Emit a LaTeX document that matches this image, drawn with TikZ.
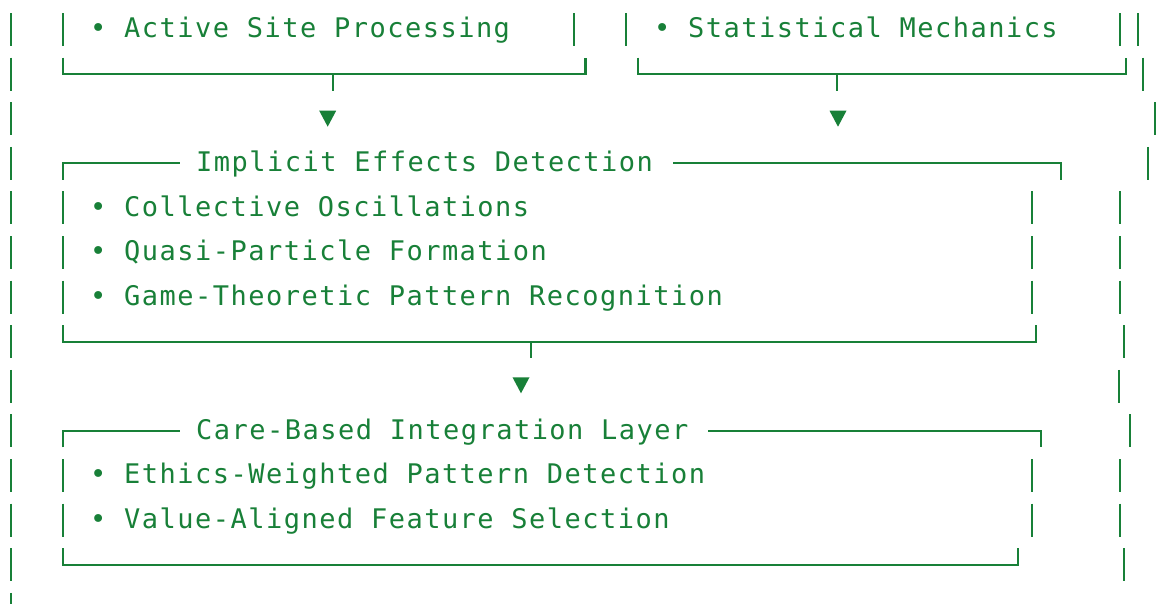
\documentclass[tikz,border=0pt]{standalone}
\usepackage{fontspec}
\newfontfamily\asciimono[LetterSpace=5.5]{DejaVu Sans Mono}
\definecolor{termgreen}{HTML}{188038}
\tikzset{
  bar/.style     = {draw=termgreen, line width=2.2pt},
  boxrule/.style = {draw=termgreen, line width=2.2pt},
  itemtxt/.style = {anchor=base west, inner sep=0pt, text=termgreen,
                    font=\asciimono\fontsize{27}{30}\selectfont},
  ttltxt/.style  = {itemtxt},
  headtip/.style = {fill=termgreen},
}

\begin{document}
\begin{tikzpicture}[x=1pt, y=-1pt]
  \useasboundingbox (0,0) rectangle (1171,603);
  % outer left frame
  \foreach \k in {0,...,13}{\draw[bar] (11,{13+44.6*\k}) -- ++(0,33);}
  % single bars: row/x
  \foreach \k/\x in {0/63, 0/574, 0/626, 0/1120, 0/1137.7, 1/1142.7, 2/1155, 3/1148.3,
                     4/63, 5/63, 6/63, 4/1031.7, 5/1031.7, 6/1031.7,
                     4/1120, 5/1120, 6/1120, 7/1124.3, 8/1119.3, 9/1129.7,
                     10/63, 11/63, 10/1031.7, 11/1031.7, 10/1120, 11/1120, 12/1123.7}
    {\draw[bar] (\x,{13+44.6*\k}) -- ++(0,33);}

  % top row boxes
  \node[itemtxt] (act) at (90,37.7) {• Active Site Processing};
  \node[itemtxt] (stm) at (654,37.7) {• Statistical Mechanics};
  \draw[boxrule] (63,57.6) |- (585.5,74.1) -- (585.5,57.6);
  \draw[boxrule] (638,57.6) |- (1125.7,74.1) -- (1125.7,57.6);
  \coordinate (actout) at (333.3,74.1);
  \coordinate (stmout) at (837,74.1);
  \draw[boxrule] (actout) -- ++(0,16.5);
  \draw[boxrule] (stmout) -- ++(0,16.5);

  % implicit effects box
  \node[ttltxt] (ied) at (196,171.5) {Implicit Effects Detection};
  \draw[boxrule] (63,179.8) |- (180,163.3);
  \draw[boxrule] (673,163.3) -| (1060.7,179.8);
  \node[itemtxt] (col) at (90,216.1) {• Collective Oscillations};
  \node[itemtxt] (qpf) at (90,260.7) {• Quasi-Particle Formation};
  \node[itemtxt] (gtp) at (90,305.3) {• Game-Theoretic Pattern Recognition};
  \draw[boxrule] (63,325.2) |- (1036,341.7) -- (1036,325.2);
  \coordinate (iedout) at (531.3,341.7);
  \draw[boxrule] (iedout) -- ++(0,16.5);

  % care-based box
  \node[ttltxt] (cbi) at (196,439.1) {Care-Based Integration Layer};
  \draw[boxrule] (63,447.4) |- (179.5,430.9);
  \draw[boxrule] (708,430.9) -| (1041.3,447.4);
  \node[itemtxt] (ewp) at (90,483.7) {• Ethics-Weighted Pattern Detection};
  \node[itemtxt] (vaf) at (90,528.3) {• Value-Aligned Feature Selection};
  \draw[boxrule] (63,548.2) |- (1018.3,564.7) -- (1018.3,548.2);

  % arrow heads
  \foreach \ax/\ay in {327.7/110.7, 838/110.7, 521/377.3}
    {\fill[headtip] ({\ax-8.5},\ay) -- ({\ax+8.5},\ay) -- (\ax,{\ay+16}) -- cycle;}
\end{tikzpicture}
\end{document}
